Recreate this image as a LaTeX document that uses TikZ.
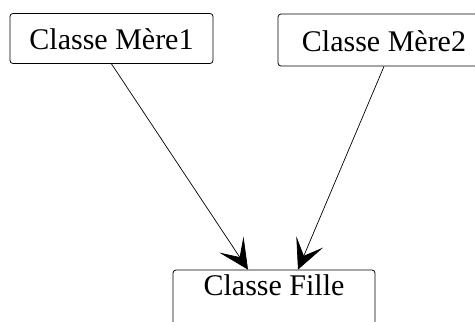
\documentclass[tikz,border=0pt]{standalone}
\usepackage{fontspec}
\setmainfont{Liberation Serif}
\usetikzlibrary{arrows.meta,calc}

\tikzset{
  classbox/.style={draw=black, line width=0.8pt, rounded corners=3pt,
    inner sep=0pt, font=\fontsize{30}{34}\selectfont,
    text height=22pt, text depth=0pt},
  inherit/.style={draw=black, line width=0.7pt,
    -{Stealth[length=30pt,width=29pt,inset=15pt]}},
}

\begin{document}
\begin{tikzpicture}[x=1pt,y=-1pt]
  \clip (0,0) rectangle (475,322);
  \useasboundingbox (0,0) rectangle (475,322);

  % parent classes
  \node[classbox, minimum width=203pt, minimum height=50pt] (m1) at (111.5,38.5) {Classe Mère1};
  \node[classbox, minimum width=212pt, minimum height=52pt] (m2) at (384,40) {Classe Mère2};

  % child class, text set near the top of a tall box
  \node[classbox, minimum width=202pt, minimum height=60pt,
        text height=20pt, text depth=30pt] (fille) at (274,300) {Classe Fille};

  \coordinate (f1) at ($(fille.north)+(-26,0)$);
  \coordinate (f2) at ($(fille.north)+(24,0)$);

  % inheritance links
  \draw[inherit] (m1.south) -- (f1);
  \draw[inherit] (m2.south) -- (f2);
\end{tikzpicture}
\end{document}
